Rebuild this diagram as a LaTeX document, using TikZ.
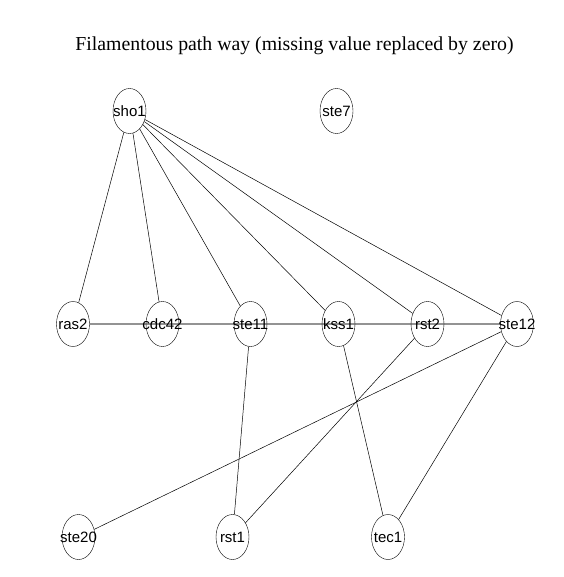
\documentclass[tikz,border=0pt]{standalone}
\usepackage{fontspec}
\setmainfont{Liberation Serif}
\setsansfont{Liberation Sans}
\usepackage{tikz}
\usetikzlibrary{shapes.geometric, backgrounds}

\newcommand{\genelabel}[1]{\makebox[0pt]{#1}}

\begin{document}
\begin{tikzpicture}[
        x=1pt, y=-1pt,
        gene/.style={ellipse, draw, thin, inner sep=0pt, minimum width=33pt, minimum height=45pt,
          font=\sffamily\fontsize{15}{16}\selectfont},
        edge/.style={draw, line width=0.5pt},
        chain/.style={draw, gray!85, line width=1.3pt}
      ]
      \useasboundingbox (0,0) rectangle (563,577);

      % title
      \node[font=\fontsize{19.8}{22}\selectfont] (title) at (294.5, 46) {Filamentous path way (missing value replaced by zero)};

      % top row
      \node[gene] (sho1) at (129.5, 111) {\genelabel{sho1}};
      \node[gene] (ste7) at (336.5, 111) {\genelabel{ste7}};

      % middle row
      \node[gene] (ras2) at (73, 324) {\genelabel{ras2}};
      \node[gene] (cdc42) at (162.5, 324) {\genelabel{cdc42}};
      \node[gene] (ste11) at (250.5, 324) {\genelabel{ste11}};
      \node[gene] (kss1) at (338.5, 324) {\genelabel{kss1}};
      \node[gene] (rst2) at (427.5, 324) {\genelabel{rst2}};
      \node[gene] (ste12) at (517, 324) {\genelabel{ste12}};

      % bottom row
      \node[gene] (ste20) at (78.5, 537) {\genelabel{ste20}};
      \node[gene] (rst1) at (232.5, 537) {\genelabel{rst1}};
      \node[gene] (tec1) at (388, 537) {\genelabel{tec1}};

      % edges
      \begin{pgfonlayer}{background}
        \draw[chain] (ras2) -- (ste12);
      \end{pgfonlayer}

      \draw[edge] (sho1) -- (ras2);
      \draw[edge] (sho1) -- (cdc42);
      \draw[edge] (sho1) -- (ste11);
      \draw[edge] (sho1) -- (kss1);
      \draw[edge] (sho1) -- (rst2);
      \draw[edge] (sho1) -- (ste12);

      \draw[edge] (ste11) -- (rst1);
      \draw[edge] (kss1) -- (tec1);
      \draw[edge] (rst2) -- (rst1);
      \draw[edge] (ste12) -- (ste20);
      \draw[edge] (ste12) -- (tec1);
  \end{tikzpicture}
\end{document}
